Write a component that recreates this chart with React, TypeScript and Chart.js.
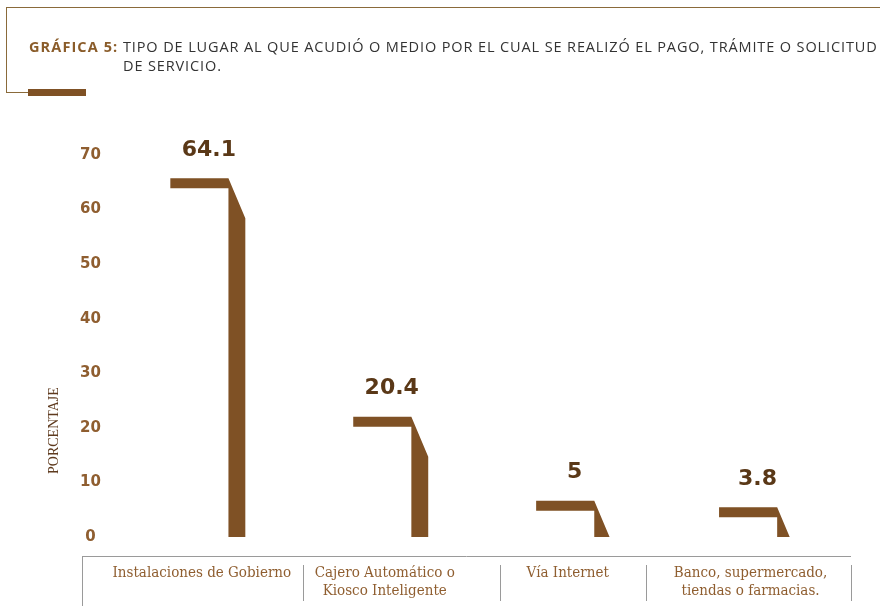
import React, { useEffect, useRef } from "react";
import { Chart, registerables } from "chart.js";

Chart.register(...registerables);

const categories: string[][] = [
  ["Instalaciones de Gobierno"],
  ["Cajero Automático o", "Kiosco Inteligente"],
  ["Vía Internet"],
  ["Banco, supermercado,", "tiendas o farmacias."],
];
const values: number[] = [64.1, 20.4, 5, 3.8];
const yTicks: number[] = [0, 10, 20, 30, 40, 50, 60, 70];
const valueLabels: string[] = ["64.1", "20.4", "5", "3.8"];
const yTitle = "PORCENTAJE";
const titleLead = "GRÁFICA 5:";
const titleLine1 = "TIPO DE LUGAR AL QUE ACUDIÓ O MEDIO POR EL CUAL SE REALIZÓ EL PAGO, TRÁMITE O SOLICITUD";
const titleLine2 = "DE SERVICIO.";

const BAR = "#7f5125";
const TICK = "#8f5e30";
const VAL = "#5a3817";

const shapePlugin = {
  id: "shapes",
  afterDatasetsDraw(chart: any) {
    const ctx = chart.ctx;
    const meta = chart.getDatasetMeta(0);
    const area = chart.chartArea;
    ctx.save();
    meta.data.forEach((bar: any, i: number) => {
      const w = bar.width;
      const xL = bar.x - w / 2;
      const xR = bar.x + w / 2;
      const vw = w * 0.225;
      const xC = xR - vw;
      const base = bar.base;
      const top = bar.y - 9;
      const capH = 10;
      const drop = 40;
      ctx.fillStyle = BAR;
      ctx.beginPath();
      ctx.moveTo(xL, top);
      ctx.lineTo(xC, top);
      if (top + drop <= base) {
        ctx.lineTo(xR, top + drop);
        ctx.lineTo(xR, base);
      } else {
        ctx.lineTo(xC + vw * (base - top) / drop, base);
      }
      ctx.lineTo(xC, base);
      ctx.lineTo(xC, top + capH);
      ctx.lineTo(xL, top + capH);
      ctx.closePath();
      ctx.fill();
      ctx.fillStyle = VAL;
      ctx.font = "bold 22px 'DejaVu Sans'";
      ctx.textAlign = "center";
      ctx.textBaseline = "middle";
      ctx.fillText(valueLabels[i], bar.x + 1, top - 28);
    });
    // x axis line and dividers
    const yAxisLine = area.bottom + 19;
    ctx.strokeStyle = "#9a9a9a";
    ctx.lineWidth = 1;
    ctx.beginPath();
    ctx.moveTo(82, yAxisLine + 0.5);
    ctx.lineTo(area.right + 3, yAxisLine + 0.5);
    ctx.stroke();
    ctx.beginPath();
    ctx.moveTo(82.5, yAxisLine);
    ctx.lineTo(82.5, chart.height);
    const xs = chart.scales.x;
    const divs = [xs.getPixelForValue(0.5) + 4, xs.getPixelForValue(1.5) + 18, xs.getPixelForValue(2.5) - 19, area.right + 3];
    divs.forEach((d: number) => {
      ctx.moveTo(Math.round(d) + 0.5, yAxisLine + 9);
      ctx.lineTo(Math.round(d) + 0.5, yAxisLine + 45);
    });
    ctx.stroke();
    // y title
    const ys = chart.scales.y;
    ctx.save();
    ctx.translate(54, ys.getPixelForValue(19.5));
    ctx.rotate(-Math.PI / 2);
    ctx.fillStyle = "#5e3a1e";
    ctx.font = "14px 'Liberation Serif'";
    ctx.textAlign = "center";
    ctx.textBaseline = "middle";
    ctx.fillText(yTitle, 0, 0);
    ctx.restore();
    ctx.restore();
  },
};

export default function App() {
  const ref = useRef<HTMLCanvasElement | null>(null);
  useEffect(() => {
    document.body.style.margin = "0";
    const chart = new Chart(ref.current as HTMLCanvasElement, {
      type: "bar",
      data: {
        labels: categories as any,
        datasets: [
          {
            data: values,
            backgroundColor: "rgba(0,0,0,0)",
            categoryPercentage: 1,
            barPercentage: 0.41,
          },
        ],
      },
      options: {
        animation: false,
        responsive: false,
        layout: { padding: { left: 64.5, right: 32, top: 155, bottom: 0 } },
        plugins: { legend: { display: false }, tooltip: { enabled: false } },
        scales: {
          x: {
            grid: { display: false, drawTicks: false },
            border: { display: false },
            ticks: {
              padding: 27,
              labelOffset: -6,
              color: TICK,
              font: { family: "'DejaVu Serif Condensed', 'DejaVu Serif'", size: 15, lineHeight: 1.2 },
              maxRotation: 0,
              autoSkip: false,
            },
            afterFit: (s: any) => {
              s.height = 69;
            },
          },
          y: {
            min: 0,
            max: 70,
            grid: { display: false, drawTicks: false },
            border: { display: false },
            afterBuildTicks: (s: any) => {
              s.ticks = yTicks.map((v) => ({ value: v }));
            },
            ticks: {
              padding: 15.5,
              crossAlign: "center",
              color: TICK,
              font: { family: "'DejaVu Sans'", size: 15, weight: "bold" },
            },
          },
        },
      },
      plugins: [shapePlugin],
    });
    return () => chart.destroy();
  }, []);

  return (
    <div style={{ position: "relative", width: 880, height: 606, overflow: "hidden", background: "#fff" }}>
      <canvas ref={ref} width={880} height={606} style={{ position: "absolute", left: 0, top: 0 }} />
      <div style={{ position: "absolute", left: 6, top: 7, width: 874, height: 0, borderTop: "1px solid #8a6a3a" }} />
      <div style={{ position: "absolute", left: 6, top: 7, width: 0, height: 86, borderLeft: "1px solid #8a6a3a" }} />
      <div style={{ position: "absolute", left: 6, top: 92, width: 22, height: 0, borderTop: "1px solid #8a6a3a" }} />
      <div style={{ position: "absolute", left: 28, top: 89, width: 58, height: 7, background: BAR }} />
      <div
        style={{
          position: "absolute",
          left: 29,
          top: 37,
          fontFamily: "'Open Sans', sans-serif",
          fontSize: 14.5,
          letterSpacing: 0.88,
          lineHeight: "19px",
          color: "#333",
          whiteSpace: "nowrap",
        }}
      >
        <span style={{ fontWeight: 700, color: "#8a5c2a", letterSpacing: 1.1 }}>{titleLead}</span>{" "}
        <span>{titleLine1}</span>
        <div style={{ paddingLeft: 94 }}>{titleLine2}</div>
      </div>
    </div>
  );
}
